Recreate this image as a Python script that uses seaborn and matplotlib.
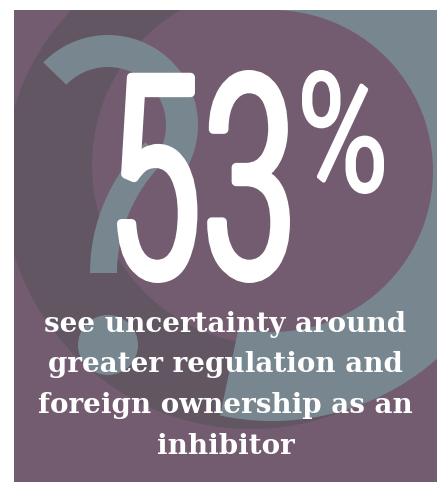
import matplotlib
matplotlib.use("Agg")
import matplotlib.pyplot as plt
import seaborn as sns
from matplotlib import patches, font_manager
from matplotlib import patheffects as pe
from matplotlib.textpath import TextPath
from matplotlib.font_manager import FontProperties
from matplotlib.transforms import Affine2D

# headline figure and caption
share_pct = 53
pct_sign = "%"
caption_lines = [
    "see uncertainty around",
    "greater regulation and",
    "foreign ownership as an",
    "inhibitor",
]

PURPLE = "#735c70"
DARK = "#625663"
GREY = "#78868f"
W, H = 442, 482


class Stretch(pe.AbstractPathEffect):
    """stretch glyphs vertically around the baseline anchor and thicken them a bit"""

    def __init__(self, sy, x0, y0, lw):
        super().__init__()
        self.sy, self.x0, self.y0, self.lw = sy, x0, y0, lw

    def draw_path(self, renderer, gc, tpath, affine, rgbFace=None):
        tall = Affine2D().translate(-self.x0, -self.y0).scale(1, self.sy).translate(self.x0, self.y0)
        gc0 = renderer.new_gc()
        gc0.copy_properties(gc)
        gc0.set_linewidth(self.lw)
        gc0.set_foreground(rgbFace)
        gc0.set_joinstyle("round")
        renderer.draw_path(gc0, tpath, affine + tall, rgbFace)
        gc0.restore()


def tall_text(ax, s, box, prop, lw):
    # box = left, right, top, bottom of the ink in image pixels
    left, right, top, bottom = box
    ext = TextPath((0, 0), s, size=100, prop=prop).get_extents()
    pad = lw * 100 / 72 / 2
    kw = ((right - left) - 2 * pad) / ext.width
    kh = ((bottom - top) - 2 * pad) / ext.height
    x_anchor = left + pad - ext.x0 * kw
    baseline = bottom - pad + ext.y0 * kh
    p = prop.copy()
    p.set_size(kw * 100 * 72 / 100)
    t = ax.text(x_anchor, baseline, s, fontproperties=p, color="white",
                ha="left", va="baseline", zorder=5)
    t.set_path_effects([Stretch(kh / kw, x_anchor, H - baseline, lw)])
    return t


sns.set_theme(style="white")
fig = plt.figure(figsize=(W / 100, H / 100), dpi=100)
fig.patch.set_facecolor("white")
ax = fig.add_axes([0, 0, 1, 1])
ax.set_xlim(0, W)
ax.set_ylim(H, 0)
ax.axis("off")

panel = patches.Rectangle((14, 10), 423, 472, facecolor=PURPLE, edgecolor="none")
ax.add_patch(panel)

# background question marks (image coords, y down -> wedge angles flipped)
deco = [
    patches.Circle((251, 181), 248, facecolor=DARK),
    patches.Circle((272, 165), 180, facecolor=PURPLE),
    patches.Wedge((272, 171), 250, -90, 102, width=89, facecolor=GREY),
    patches.Wedge((108, 125), 90, -136, 28, width=32, facecolor=GREY),
    patches.Wedge((272, 273), 182, 180, 226, width=27, facecolor=GREY),
    patches.Circle((108, 345), 30, facecolor=GREY),
]
for d in deco:
    d.set_edgecolor("none")
    ax.add_patch(d)
    d.set_clip_path(panel)

names = {f.name for f in font_manager.fontManager.ttflist}
num_family = "Roboto Condensed" if "Roboto Condensed" in names else "Roboto"
num_prop = FontProperties(family=num_family, weight="light")

tall_text(ax, str(share_pct), (117, 290, 70, 283), num_prop, lw=6.5)
tall_text(ax, pct_sign, (302, 384, 70, 194), num_prop, lw=3)

cap_prop = FontProperties(family="DejaVu Serif", weight="bold")
widest = max(TextPath((0, 0), s, size=100, prop=cap_prop).get_extents().width
             for s in caption_lines)
cap_size = 373 / widest * 100 * 72 / 100
for i, line in enumerate(caption_lines):
    ax.text(225.5, 332 + i * 40.5, line, fontproperties=cap_prop, fontsize=cap_size,
            color="white", ha="center", va="baseline", zorder=5)

fig.savefig("out.png", dpi=100)
